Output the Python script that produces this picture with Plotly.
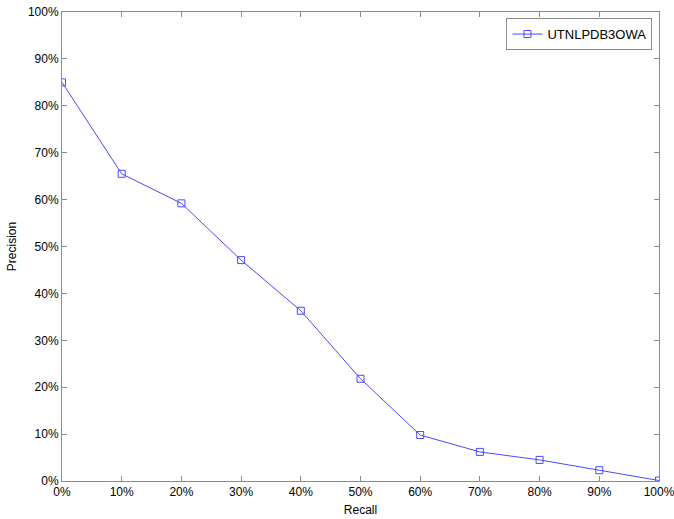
import plotly.graph_objects as go

recall = [0, 10, 20, 30, 40, 50, 60, 70, 80, 90, 100]
precision = [85.0, 65.5, 59.2, 47.1, 36.3, 21.8, 9.8, 6.2, 4.5, 2.3, 0.1]
tick_vals = [0, 10, 20, 30, 40, 50, 60, 70, 80, 90, 100]
tick_text = [f"{v}%" for v in tick_vals]
series_name = "UTNLPDB3OWA"

FONT = "Liberation Sans, Arial"

fig = go.Figure()
fig.add_trace(go.Scatter(
    x=recall, y=precision, mode="lines+markers", name=series_name,
    line=dict(color="#4a4aff", width=1),
    marker=dict(symbol="square-open", size=7, color="#4a4aff", line=dict(width=1)),
))

axis_common = dict(
    showgrid=False, zeroline=False, showline=True, linecolor="#8c8c8c", linewidth=1,
    mirror="ticks", ticks="inside", ticklen=5, tickcolor="#8c8c8c",
    tickfont=dict(family=FONT, size=12, color="#000000"),
    automargin=False, ticklabeloverflow="allow",
)
fig.update_xaxes(range=[0, 100], tickvals=tick_vals, ticktext=tick_text,
                 title=dict(text="Recall", font=dict(family=FONT, size=12, color="#000000"), standoff=7),
                 **axis_common)
fig.update_yaxes(range=[0, 100], tickvals=tick_vals, ticktext=tick_text,
                 title=dict(text="Precision", font=dict(family=FONT, size=12, color="#000000"), standoff=8),
                 **axis_common)

fig.update_layout(
    width=674, height=519,
    margin=dict(l=62, r=15, t=12, b=38),
    plot_bgcolor="white", paper_bgcolor="white",
    showlegend=True,
    legend=dict(x=0.989, y=0.987, xanchor="right", yanchor="top",
                bordercolor="#8c8c8c", borderwidth=1, bgcolor="white",
                font=dict(family=FONT, size=13, color="#000000")),
)

fig.write_html("out.html", config={"displayModeBar": False},
               post_script="document.body.style.margin='0';")
